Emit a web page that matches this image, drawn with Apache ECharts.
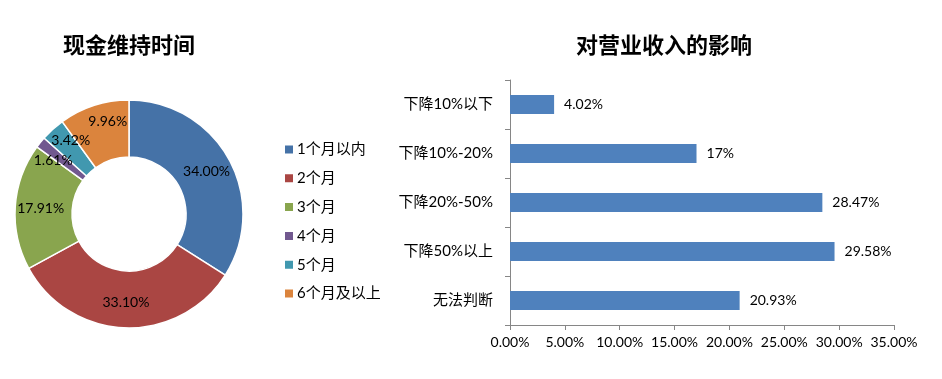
<!DOCTYPE html>
<html>
<head>
<meta charset="utf-8">
<script src="https://cdn.jsdelivr.net/npm/echarts@6/dist/echarts.min.js"></script>
<style>html,body{margin:0;padding:0;background:#fff;}#c{width:942px;height:379px;}</style>
</head>
<body>
<div id="c"></div>
<script>
const pieTitle = '现金维持时间';
const barTitle = '对营业收入的影响';
const pieCategories = ['1个月以内', '2个月', '3个月', '4个月', '5个月', '6个月及以上'];
const pieValues = [34.00, 33.10, 17.91, 1.61, 3.42, 9.96];
const pieColors = ['#4572A7', '#AA4643', '#89A54E', '#71588F', '#4198AF', '#DB843D'];
const barCategories = ['下降10%以下', '下降10%-20%', '下降20%-50%', '下降50%以上', '无法判断'];
const barValues = [4.02, 17, 28.47, 29.58, 20.93];
const barLabels = ['4.02%', '17%', '28.47%', '29.58%', '20.93%'];
const xTicks = [0, 5, 10, 15, 20, 25, 30, 35];

// label nudges (style only) to mimic the original's best-fit label placement
const pieLabelNudge = [[0, 0], [0, 0], [0, 0], [-7, 2], [1, -8], [6, -8]];

const FONT = 'Lato, "Noto Sans CJK SC", sans-serif';
const chart = echarts.init(document.getElementById('c'));
chart.setOption({
  animation: false,
  textStyle: { fontFamily: FONT, color: '#000' },
  title: [
    { text: pieTitle, left: 129, top: 34, padding: 0, textAlign: 'center',
      textStyle: { fontSize: 22, fontWeight: 'bold', color: '#000', fontFamily: '"Noto Sans CJK SC"' } },
    { text: barTitle, left: 664, top: 34, padding: 0, textAlign: 'center',
      textStyle: { fontSize: 22, fontWeight: 'bold', color: '#000', fontFamily: '"Noto Sans CJK SC"' } }
  ],
  legend: {
    orient: 'vertical', left: 283, top: 142, padding: 0,
    itemWidth: 10, itemHeight: 10, itemGap: 13.8, icon: 'rect',
    data: pieCategories,
    textStyle: { fontSize: 15, color: '#000', fontFamily: FONT, padding: [0, 0, 0, -2] }
  },
  grid: { left: 510, right: 48, top: 80, bottom: 54 },
  xAxis: {
    type: 'value', min: 0, max: 35, interval: 5,
    axisLine: { show: true, lineStyle: { color: '#868686' } },
    axisTick: { show: true, length: 5, lineStyle: { color: '#868686' } },
    splitLine: { show: false },
    axisLabel: { fontSize: 14, color: '#000', margin: 10,
      formatter: v => xTicks.includes(v) ? v.toFixed(2) + '%' : '' }
  },
  yAxis: {
    type: 'category', inverse: true, data: barCategories,
    axisLine: { show: true, lineStyle: { color: '#868686' } },
    axisTick: { show: true, length: 5, lineStyle: { color: '#868686' } },
    axisLabel: { fontSize: 15, color: '#000', margin: 17 }
  },
  series: [
    {
      type: 'pie', radius: [57, 114], center: [129, 214], startAngle: 90, clockwise: true,
      color: pieColors,
      itemStyle: { borderColor: '#fff', borderWidth: 1.5 },
      label: { show: true, position: 'inside', fontSize: 14, color: '#000',
        formatter: p => p.value.toFixed(2) + '%' },
      labelLine: { show: false },
      labelLayout: function (params) {
        const n = pieLabelNudge[params.dataIndex];
        return { hideOverlap: false, dx: n[0], dy: n[1] };
      },
      emphasis: { disabled: true },
      data: pieCategories.map((n, i) => ({ name: n, value: pieValues[i] }))
    },
    {
      type: 'bar', data: barValues, barWidth: 19,
      itemStyle: { color: '#4F81BD' },
      label: { show: true, position: 'right', distance: 10, fontSize: 14, color: '#000',
        formatter: p => barLabels[p.dataIndex] },
      emphasis: { disabled: true }
    }
  ]
});
</script>
</body>
</html>
